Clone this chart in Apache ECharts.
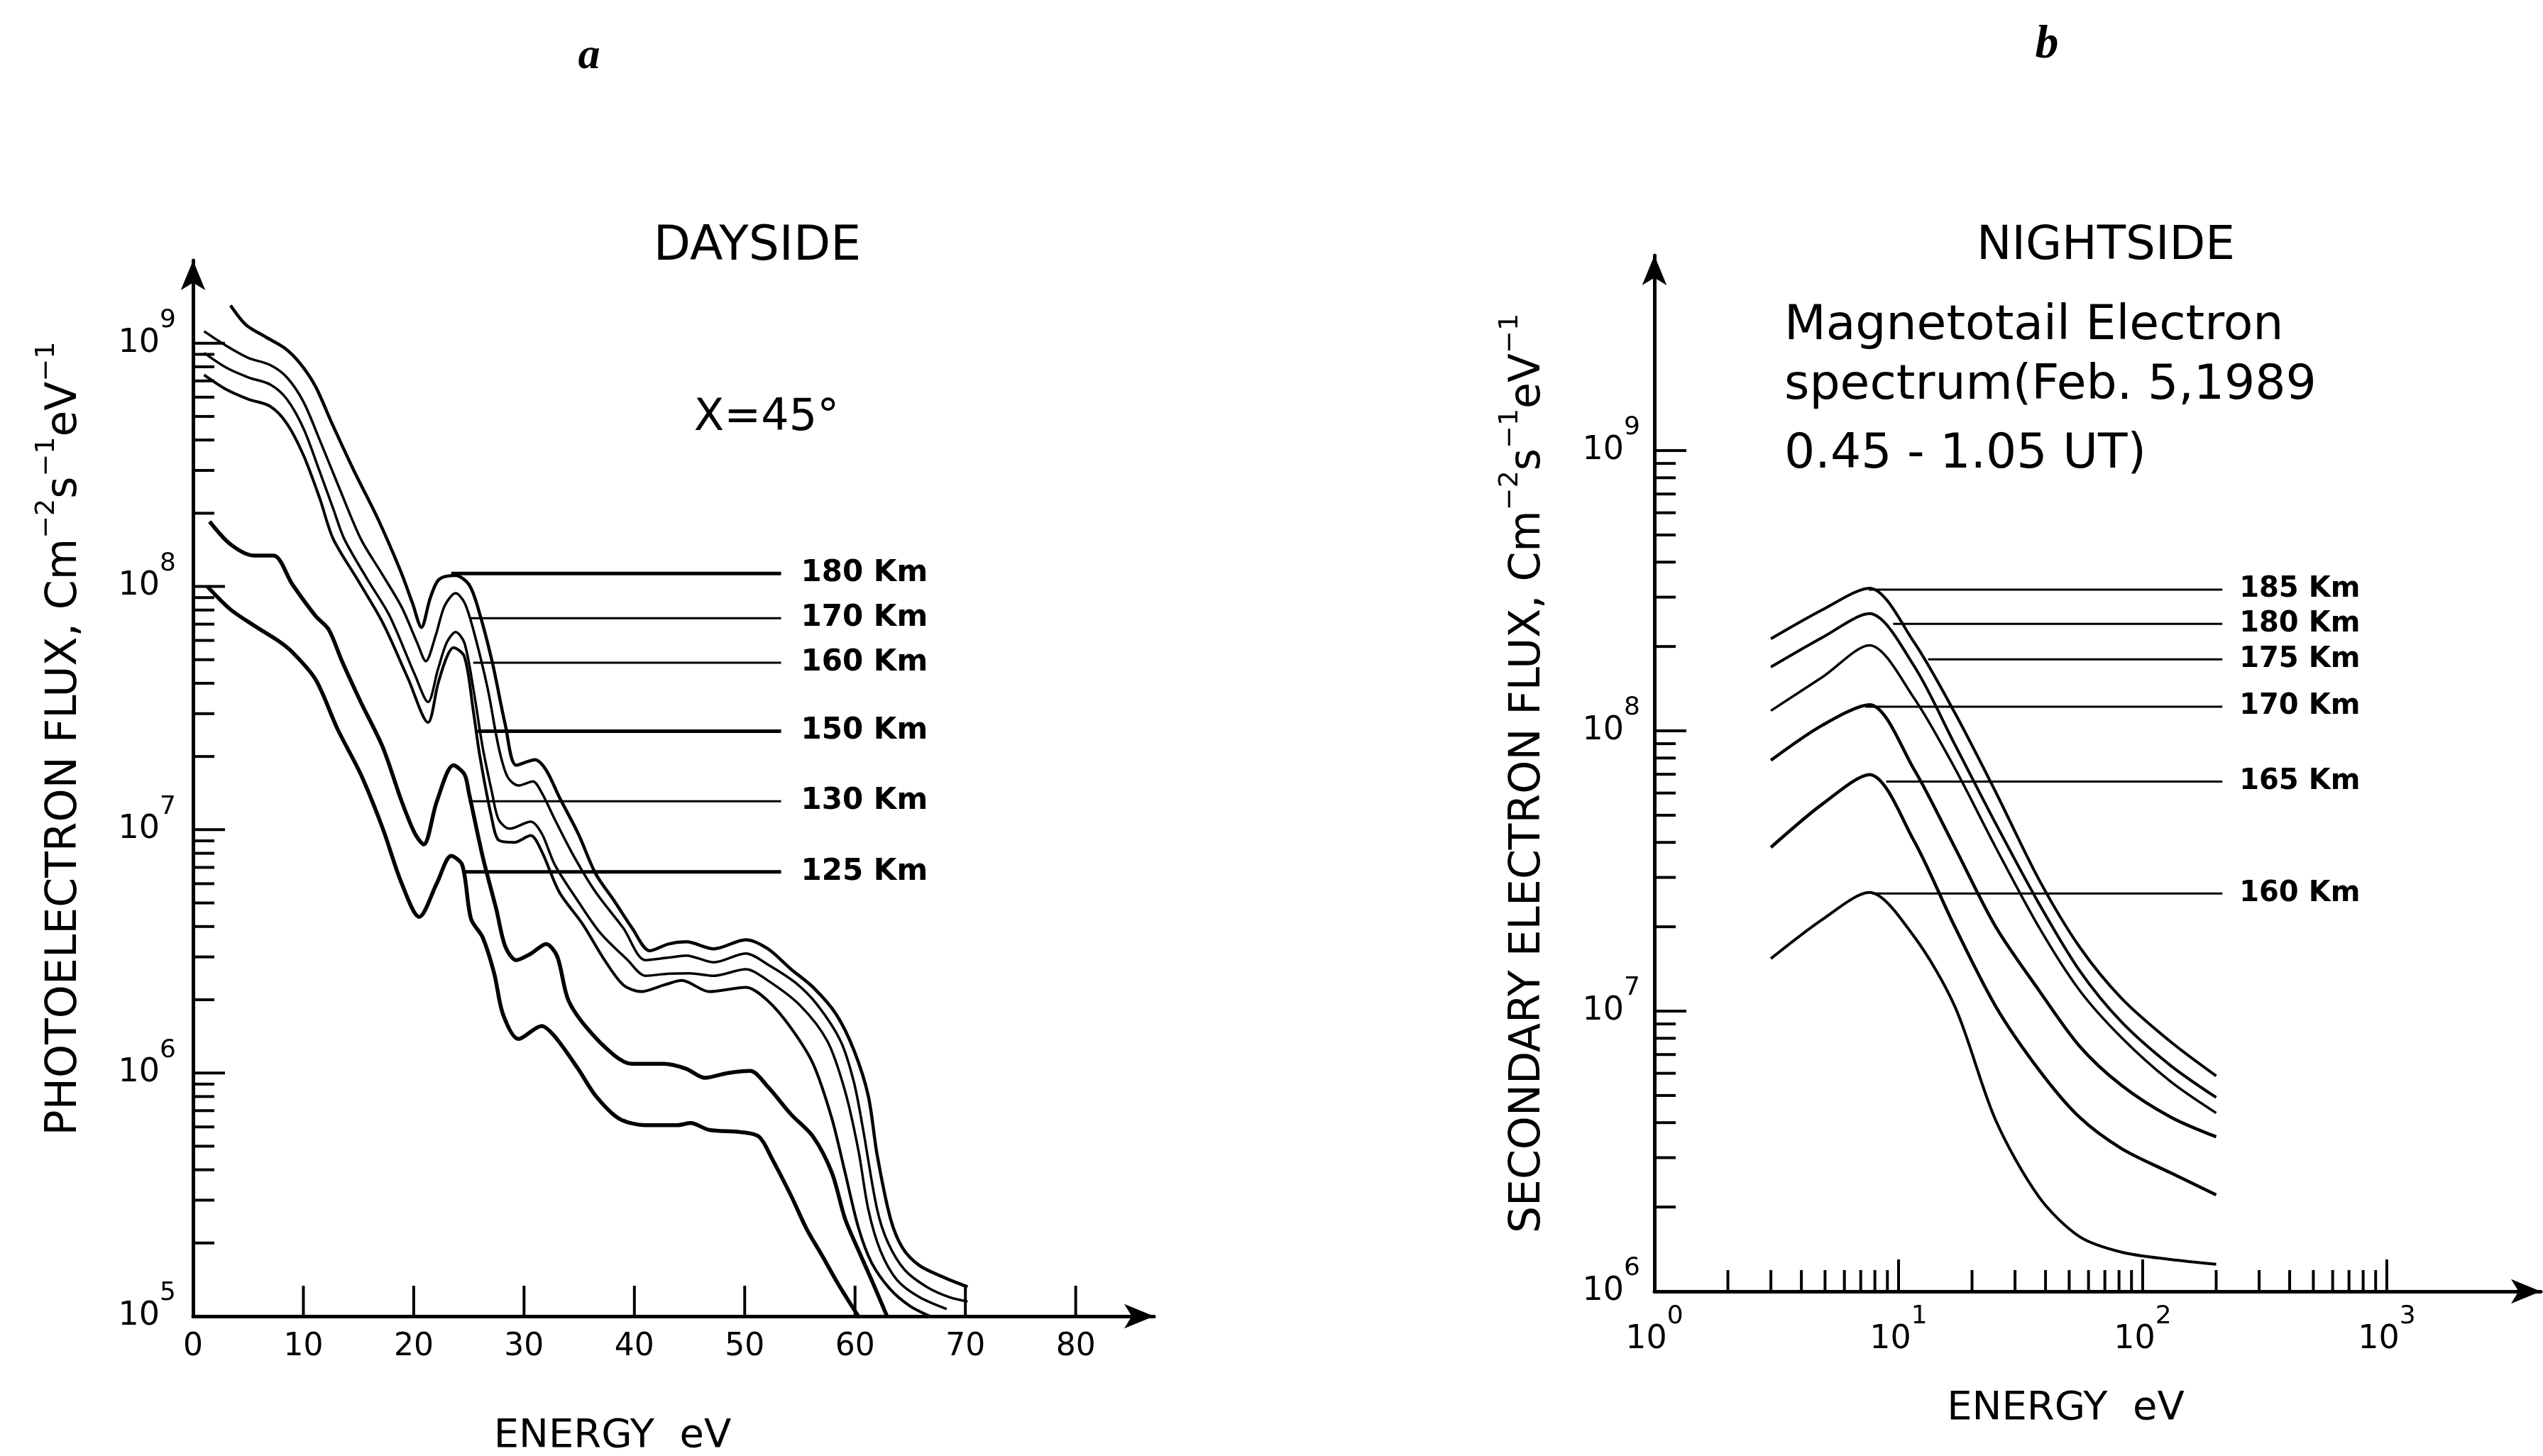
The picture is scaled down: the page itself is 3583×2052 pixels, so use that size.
<!DOCTYPE html>
<html>
<head>
<meta charset="UTF-8">
<title>Dayside / Nightside electron flux</title>
<script src="https://cdn.jsdelivr.net/npm/echarts@6.0.0/dist/echarts.min.js"></script>
<style>
  html, body { margin: 0; padding: 0; background: #fff; }
  #main { width: 3583px; height: 2052px; }
</style>
</head>
<body>
<div id="main"></div>
<script type="text/javascript">
// ---- panel a: dayside photoelectron flux, [energy eV, flux] ----
const day180 = [[3.4,1.43e9],[4.8,1.19e9],[6.6,1.06e9],[8.3,9.55e8],[9.7,8.26e8],[11.1,6.64e8],[12.5,4.78e8],[14.6,2.98e8],[16.7,1.92e8],[18.8,1.16e8],[19.9,8.51e7],[20.7,6.79e7],[21.5,8.97e7],[22.3,1.07e8],[23.8,1.11e8],[25.0,1.02e8],[25.8,8.24e7],[27.1,4.93e7],[28.3,2.70e7],[29.3,1.84e7],[31.0,1.94e7],[32.0,1.76e7],[33.2,1.36e7],[34.9,9.66e6],[36.5,6.58e6],[38.2,5.08e6],[39.8,3.94e6],[41.4,3.18e6],[43.1,3.39e6],[44.7,3.46e6],[47.2,3.24e6],[50.1,3.53e6],[52.1,3.24e6],[54.2,2.67e6],[56.2,2.25e6],[58.3,1.74e6],[59.9,1.24e6],[61.2,8.05e5],[62.0,4.61e5],[63.2,2.53e5],[64.3,1.91e5],[65.8,1.62e5],[67.8,1.46e5],[70.2,1.32e5]];
const day170 = [[1.0,1.12e9],[3.0,9.77e8],[5.0,8.71e8],[7.0,8.13e8],[8.5,7.24e8],[10.0,5.75e8],[11.5,3.98e8],[13.3,2.51e8],[15.2,1.57e8],[17.0,1.15e8],[18.9,8.24e7],[20.3,5.89e7],[21.1,4.93e7],[22.0,6.31e7],[22.8,8.32e7],[23.8,9.38e7],[24.6,8.59e7],[25.4,6.65e7],[26.7,3.81e7],[27.7,2.18e7],[28.5,1.65e7],[29.5,1.52e7],[30.8,1.58e7],[31.6,1.42e7],[32.8,1.10e7],[34.5,7.80e6],[36.5,5.53e6],[39.0,3.94e6],[41.0,2.91e6],[43.1,2.98e6],[44.7,3.04e6],[47.2,2.85e6],[50.1,3.10e6],[52.1,2.79e6],[54.6,2.35e6],[56.6,1.90e6],[58.7,1.35e6],[59.9,9.16e5],[60.7,5.97e5],[62.0,2.75e5],[63.0,2.0e5],[64.5,1.55e5],[66.5,1.32e5],[68.5,1.20e5],[70.2,1.15e5]];
const day160 = [[1.0,9.12e8],[3.0,7.94e8],[5.0,7.24e8],[7.0,6.76e8],[8.5,5.89e8],[10.0,4.47e8],[11.5,2.95e8],[12.7,2.09e8],[13.7,1.57e8],[15.8,1.07e8],[17.8,7.59e7],[20.1,4.34e7],[21.3,3.35e7],[22.2,4.57e7],[23.0,5.89e7],[23.8,6.50e7],[24.6,5.85e7],[25.4,3.81e7],[26.25,2.18e7],[27.1,1.42e7],[27.7,1.10e7],[28.7,1.01e7],[30.6,1.08e7],[31.6,9.66e6],[32.8,7.16e6],[34.9,5.08e6],[36.9,3.77e6],[39.4,2.91e6],[41.0,2.51e6],[43.1,2.56e6],[45.0,2.57e6],[47.2,2.51e6],[50.1,2.67e6],[52.1,2.40e6],[55.0,1.90e6],[57.5,1.35e6],[59.1,8.41e5],[60.3,4.82e5],[61.2,2.75e5],[62.3,1.86e5],[63.8,1.41e5],[65.8,1.20e5],[68.3,1.07e5]];
const day150 = [[1.0,7.41e8],[3.0,6.46e8],[5.0,5.89e8],[7.0,5.50e8],[8.5,4.68e8],[10.0,3.47e8],[11.5,2.29e8],[12.7,1.57e8],[15.0,1.05e8],[17.2,7.08e7],[19.5,4.17e7],[21.3,2.76e7],[22.2,3.98e7],[23.0,5.13e7],[23.6,5.60e7],[24.6,5.14e7],[25.4,3.08e7],[26.0,2.0e7],[27.1,1.10e7],[27.7,9.06e6],[29.1,8.87e6],[30.6,9.46e6],[31.6,8.15e6],[33.2,5.53e6],[35.3,4.10e6],[37.3,2.91e6],[39.0,2.30e6],[40.6,2.16e6],[42.7,2.30e6],[44.3,2.40e6],[46.8,2.16e6],[50.1,2.25e6],[52.1,1.98e6],[54.2,1.53e6],[56.2,1.09e6],[57.9,6.50e5],[59.1,3.89e5],[60.3,2.32e5],[61.5,1.66e5],[63.2,1.29e5],[65.0,1.10e5],[66.8,1.0e5]];
const day130 = [[1.5,1.85e8],[3.4,1.49e8],[5.5,1.34e8],[7.3,1.34e8],[9.0,1.02e8],[11.1,7.57e7],[12.3,6.65e7],[13.5,4.93e7],[15.2,3.35e7],[17.2,2.18e7],[18.9,1.31e7],[20.1,9.66e6],[20.9,8.69e6],[22.1,1.31e7],[23.6,1.84e7],[24.6,1.69e7],[25.0,1.42e7],[26.25,7.76e6],[27.5,4.68e6],[28.3,3.31e6],[29.3,2.91e6],[30.6,3.09e6],[32.0,3.39e6],[33.0,3.02e6],[34.0,2.0e6],[35.7,1.53e6],[38.2,1.18e6],[39.8,1.09e6],[42.7,1.09e6],[44.7,1.04e6],[46.4,9.55e5],[48.4,9.98e5],[50.5,1.02e6],[52.1,8.77e5],[54.2,6.76e5],[56.2,5.47e5],[57.9,3.89e5],[59.1,2.51e5],[60.3,1.87e5],[61.5,1.41e5],[62.9,1.0e5]];
const day125 = [[1.3,1.0e8],[3.4,8.04e7],[5.5,6.92e7],[7.6,6.03e7],[9.0,5.37e7],[11.1,4.15e7],[13.1,2.59e7],[15.2,1.69e7],[17.2,1.01e7],[18.9,6.03e6],[20.5,4.38e6],[22.1,6.03e6],[23.4,7.80e6],[24.4,7.16e6],[25.2,4.29e6],[26.25,3.61e6],[27.3,2.56e6],[28.1,1.74e6],[29.5,1.38e6],[31.6,1.56e6],[32.8,1.41e6],[34.9,1.04e6],[36.5,8.05e5],[38.6,6.50e5],[41.0,6.10e5],[43.9,6.10e5],[45.1,6.22e5],[46.8,5.83e5],[49.7,5.71e5],[51.3,5.47e5],[52.5,4.42e5],[54.2,3.13e5],[55.6,2.29e5],[57.0,1.78e5],[58.5,1.35e5],[60.3,1.0e5]];

const dayLabels = ['180 Km', '170 Km', '160 Km', '150 Km', '130 Km', '125 Km'];
const dayWidths = [4.5, 3.5, 3.5, 4, 5.5, 5.5];
const dayLeadStart = [23.4, 25.2, 25.4, 25.8, 25.0, 24.6];
const dayLeadFlux = [1.13e8, 7.4e7, 4.86e7, 2.54e7, 1.31e7, 6.71e6];
const dayLeadEnd = 53.3;
const dayLeadWidths = [5, 3, 3, 5, 3, 5];

// ---- panel b: nightside secondary electron flux ----
const nightEnergy = [3, 4.9, 7.6, 11.5, 17, 25, 37.5, 55, 82, 130, 200];
const night185 = [2.13e8, 2.71e8, 3.23e8, 2.09e8, 1.16e8, 6.05e7, 2.96e7, 1.70e7, 1.11e7, 7.78e6, 5.87e6];
const night180 = [1.69e8, 2.16e8, 2.62e8, 1.72e8, 8.95e7, 4.67e7, 2.43e7, 1.40e7, 9.14e6, 6.40e6, 4.92e6];
const night175 = [1.18e8, 1.56e8, 2.02e8, 1.32e8, 7.36e7, 3.84e7, 2.00e7, 1.19e7, 8.04e6, 5.61e6, 4.33e6];
const night170 = [7.85e7, 1.05e8, 1.24e8, 7.36e7, 3.84e7, 2.00e7, 1.19e7, 7.52e6, 5.43e6, 4.19e6, 3.56e6];
const night165 = [3.84e7, 5.50e7, 6.98e7, 4.09e7, 2.00e7, 1.04e7, 6.19e6, 4.19e6, 3.23e6, 2.65e6, 2.21e6];
const night160 = [1.54e7, 2.13e7, 2.65e7, 1.86e7, 1.04e7, 4.08e6, 2.18e6, 1.57e6, 1.38e6, 1.30e6, 1.25e6];

const nightLabels = ['185 Km', '180 Km', '175 Km', '170 Km', '165 Km', '160 Km'];
const nightWidths = [4, 4, 3.5, 4.5, 4.5, 4];
const nightLeadStart = [7.55, 9.5, 13.2, 7.3, 8.9, 7.8];
const nightLeadFlux = [3.19e8, 2.41e8, 1.80e8, 1.22e8, 6.59e7, 2.63e7];
const nightLeadEnd = 212;

// axis ticks
const dayXTicks = [10, 20, 30, 40, 50, 60, 70, 80];
const dayYMajor = [1e6, 1e7, 1e8, 1e9];
const nightXMajor = [10, 100, 1000];
const nightYMajor = [1e7, 1e8, 1e9];

const FONT = 'DejaVu Sans';

function minors(e0, e1) {
    let out = [];
    for (let e = e0; e < e1; e++) {
        for (let k = 2; k <= 9; k++) out.push(k * Math.pow(10, e));
    }
    return out;
}

function powLabel(v) {
    const e = Math.log10(v);
    const r = Math.round(e);
    return Math.abs(e - r) < 1e-6 ? '{b|10}{s|' + r + '}' : '';
}

// base digits centred in a tall line, exponent pinned to its top
const powRich = {
    b: { fontSize: 46, lineHeight: 100, verticalAlign: 'middle', fontFamily: FONT, color: '#000' },
    s: { fontSize: 36, lineHeight: 36, verticalAlign: 'top', fontFamily: FONT, color: '#000' }
};

const nameRich = {
    s: { fontSize: 38, lineHeight: 36, verticalAlign: 'top', fontFamily: FONT, color: '#000' }
};

function axisLine() {
    return {
        show: true,
        onZero: false,
        symbol: ['none', 'arrow'],
        symbolSize: [26, 42],
        lineStyle: { color: '#000', width: 5 }
    };
}

// tick marks drawn inward; dir 1 = up from x axis, 0 = right from y axis
function tickSeries(gi, items) {
    return {
        type: 'custom',
        xAxisIndex: gi,
        yAxisIndex: gi,
        silent: true,
        clip: false,
        data: items,
        renderItem: function (params, api) {
            const p = api.coord([api.value(0), api.value(1)]);
            const len = api.value(2);
            const up = api.value(3) === 1;
            return {
                type: 'line',
                shape: up ? { x1: p[0], y1: p[1], x2: p[0], y2: p[1] - len }
                          : { x1: p[0], y1: p[1], x2: p[0] + len, y2: p[1] },
                style: { stroke: '#000', lineWidth: 4 }
            };
        }
    };
}

let series = [];
[day180, day170, day160, day150, day130, day125].forEach(function (d, i) {
    series.push({
        name: 'day ' + dayLabels[i], type: 'line', xAxisIndex: 0, yAxisIndex: 0,
        data: d, smooth: 0.3, showSymbol: false, silent: true,
        lineStyle: { color: '#000', width: dayWidths[i] }
    });
    series.push({
        name: dayLabels[i], type: 'line', xAxisIndex: 0, yAxisIndex: 0,
        data: [[dayLeadStart[i], dayLeadFlux[i]], [dayLeadEnd, dayLeadFlux[i]]],
        showSymbol: false, silent: true,
        lineStyle: { color: '#000', width: dayLeadWidths[i] },
        endLabel: { show: true, formatter: '{a}', distance: 28, color: '#000',
                    fontSize: 42, fontWeight: 'bold', fontFamily: FONT }
    });
});
[night185, night180, night175, night170, night165, night160].forEach(function (d, i) {
    series.push({
        name: 'night ' + nightLabels[i], type: 'line', xAxisIndex: 1, yAxisIndex: 1,
        data: nightEnergy.map(function (e, j) { return [e, d[j]]; }),
        smooth: 0.3, showSymbol: false, silent: true,
        lineStyle: { color: '#000', width: nightWidths[i] }
    });
    series.push({
        name: nightLabels[i], type: 'line', xAxisIndex: 1, yAxisIndex: 1,
        data: [[nightLeadStart[i], nightLeadFlux[i]], [nightLeadEnd, nightLeadFlux[i]]],
        showSymbol: false, silent: true,
        lineStyle: { color: '#000', width: 3 },
        endLabel: { show: true, formatter: '{a}', distance: 24, color: '#000',
                    fontSize: 40, fontWeight: 'bold', fontFamily: FONT }
    });
});

series.push(tickSeries(0, dayXTicks.map(function (v) { return [v, 1e5, 43, 1]; })));
series.push(tickSeries(0, dayYMajor.map(function (v) { return [0, v, 45, 0]; })
    .concat(minors(5, 9).map(function (v) { return [0, v, 30, 0]; }))));
series.push(tickSeries(1, nightXMajor.map(function (v) { return [v, 1e6, 45, 1]; })
    .concat(minors(0, 3).map(function (v) { return [v, 1e6, 30, 1]; }))));
series.push(tickSeries(1, nightYMajor.map(function (v) { return [1, v, 45, 0]; })
    .concat(minors(6, 9).map(function (v) { return [1, v, 30, 0]; }))));

let myChart = echarts.init(document.getElementById('main'));

myChart.setOption({
    backgroundColor: '#fff',
    animation: false,
    grid: [
        { left: 272, top: 367, width: 1354, height: 1488, containLabel: false, outerBoundsMode: 'none' },
        { left: 2331, top: 360, width: 1249, height: 1460, containLabel: false, outerBoundsMode: 'none' }
    ],
    xAxis: [{
        type: 'value', gridIndex: 0, min: 0, max: 87.1, interval: 10,
        axisLine: axisLine(), axisTick: { show: false }, splitLine: { show: false },
        axisLabel: {
            margin: 22, fontSize: 44, color: '#000', fontFamily: FONT,
            formatter: function (v) { return (v % 10 === 0 && v <= 80) ? String(v) : ''; }
        },
        name: 'ENERGY  eV', nameLocation: 'middle', nameGap: 169, nameMoveOverlap: false,
        nameTextStyle: { fontSize: 56, color: '#000', fontFamily: FONT,
                         align: 'center', verticalAlign: 'middle', padding: [0, 172, 0, 0] }
    }, {
        type: 'log', logBase: 10, gridIndex: 1, min: 1, max: 4276,
        axisLine: axisLine(), axisTick: { show: false }, splitLine: { show: false },
        axisLabel: { margin: 18, formatter: powLabel, rich: powRich },
        name: 'ENERGY  eV', nameLocation: 'middle', nameGap: 165, nameMoveOverlap: false,
        nameTextStyle: { fontSize: 56, color: '#000', fontFamily: FONT,
                         align: 'center', verticalAlign: 'middle', padding: [0, 90, 0, 0] }
    }],
    yAxis: [{
        type: 'log', logBase: 10, gridIndex: 0, min: 1e5, max: 2.19e9,
        axisLine: axisLine(), axisTick: { show: false }, splitLine: { show: false },
        axisLabel: { margin: 24, formatter: powLabel, rich: powRich },
        name: 'PHOTOELECTRON FLUX, Cm{s|−2}s{s|−1}eV{s|−1}',
        nameLocation: 'middle', nameRotate: 90, nameGap: 181, nameMoveOverlap: false,
        nameTextStyle: { fontSize: 60, lineHeight: 88, color: '#000', fontFamily: FONT,
                         align: 'center', verticalAlign: 'middle', padding: [0, 0, 0, 140], rich: nameRich }
    }, {
        type: 'log', logBase: 10, gridIndex: 1, min: 1e6, max: 4.97e9,
        axisLine: axisLine(), axisTick: { show: false }, splitLine: { show: false },
        axisLabel: { margin: 20, formatter: powLabel, rich: powRich },
        name: 'SECONDARY ELECTRON FLUX, Cm{s|−2}s{s|−1}eV{s|−1}',
        nameLocation: 'middle', nameRotate: 90, nameGap: 178, nameMoveOverlap: false,
        nameTextStyle: { fontSize: 60, lineHeight: 88, color: '#000', fontFamily: FONT,
                         align: 'center', verticalAlign: 'middle', rich: nameRich }
    }],
    graphic: [
        { type: 'text', x: 830, y: 80, style: { text: 'a', fill: '#000', font: 'italic bold 62px "Liberation Serif"', textAlign: 'center', textVerticalAlign: 'middle' } },
        { type: 'text', x: 2884, y: 64, style: { text: 'b', fill: '#000', font: 'italic bold 66px "Liberation Serif"', textAlign: 'center', textVerticalAlign: 'middle' } },
        { type: 'text', x: 1067, y: 348, style: { text: 'DAYSIDE', fill: '#000', font: '68px "DejaVu Sans"', textAlign: 'center', textVerticalAlign: 'middle' } },
        { type: 'text', x: 2967, y: 348, style: { text: 'NIGHTSIDE', fill: '#000', font: '66px "DejaVu Sans"', textAlign: 'center', textVerticalAlign: 'middle' } },
        { type: 'text', x: 1080, y: 590, style: { text: 'X=45°', fill: '#000', font: '62px "DejaVu Sans"', textAlign: 'center', textVerticalAlign: 'middle' } },
        { type: 'text', x: 2514, y: 460, style: { text: 'Magnetotail Electron', fill: '#000', font: '68px "DejaVu Sans"', textAlign: 'left', textVerticalAlign: 'middle' } },
        { type: 'text', x: 2514, y: 544, style: { text: 'spectrum(Feb. 5,1989', fill: '#000', font: '68px "DejaVu Sans"', textAlign: 'left', textVerticalAlign: 'middle' } },
        { type: 'text', x: 2514, y: 641, style: { text: '0.45 - 1.05 UT)', fill: '#000', font: '68px "DejaVu Sans"', textAlign: 'left', textVerticalAlign: 'middle' } }
    ],
    series: series
});
</script>
</body>
</html>
